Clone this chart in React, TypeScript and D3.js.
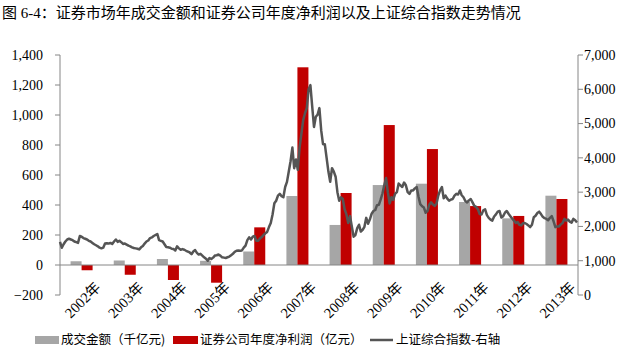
import React from "react";
import * as d3 from "d3";

const years = ["2002年","2003年","2004年","2005年","2006年","2007年","2008年","2009年","2010年","2011年","2012年","2013年"];
const turnover = [25, 30, 40, 28, 90, 460, 267, 533, 542, 420, 311, 462];
const netProfit = [-35, -65, -100, -118, 251, 1318, 480, 933, 773, 393, 327, 440];
const leftTicks = [-200, 0, 200, 400, 600, 800, 1000, 1200, 1400];
const rightTicks = [0, 1000, 2000, 3000, 4000, 5000, 6000, 7000];
// Shanghai Composite, two readings per month, Jan 2002 - Dec 2013
const sseIndex = [
  1550,1380,1480,1560,1620,1640,1620,1600,1560,1540,1520,1720,1700,1660,1640,1620,1580,1560,1520,1480,1450,1420,1380,1360,
  1380,1500,1510,1500,1520,1490,1560,1620,1550,1580,1540,1490,1500,1470,1440,1420,1390,1370,1360,1350,1330,1390,1430,1500,
  1560,1590,1660,1680,1720,1750,1780,1600,1580,1560,1480,1400,1390,1380,1350,1340,1300,1420,1360,1320,1340,1320,1290,1266,
  1240,1190,1270,1310,1230,1180,1200,1150,1100,1060,1000,1080,1050,1090,1150,1160,1180,1150,1100,1090,1080,1100,1120,1160,
  1200,1260,1290,1300,1290,1300,1380,1440,1600,1680,1620,1700,1720,1580,1580,1650,1690,1750,1800,1840,1980,2100,2350,2675,
  2750,2900,2950,2880,2850,3150,3300,3600,3900,4300,3700,3950,3650,4300,4700,5100,5300,5450,6000,6120,5500,4900,5200,5260,
  5450,4800,4400,4400,4000,3600,3300,3700,3600,3450,3000,2750,2850,2800,2500,2350,2100,2300,2000,1700,1750,1950,2050,1850,
  1900,1990,2250,2080,2200,2370,2450,2480,2620,2630,2780,2960,3200,3410,3000,2670,2850,2780,2950,3000,3250,3200,3150,3280,
  3200,3000,2950,3050,3050,3110,3150,2870,2650,2590,2550,2400,2450,2640,2700,2640,2600,2660,2900,3050,3150,2820,2900,2810,
  2750,2780,2800,2900,2950,2930,3050,2910,2850,2740,2700,2760,2800,2700,2600,2570,2500,2360,2350,2470,2500,2330,2250,2200,
  2170,2290,2350,2430,2450,2260,2300,2400,2450,2370,2300,2230,2170,2100,2130,2050,2030,2090,2100,2070,2030,1980,2050,2270,
  2310,2390,2430,2360,2280,2240,2220,2180,2250,2300,2150,1980,2000,2000,2060,2100,2220,2170,2200,2140,2110,2220,2180,2116
];
const legendLabels = ["成交金额（千亿元)", "证券公司年度净利润（亿元）", "上证综合指数-右轴"];
const title = "图 6-4：证券市场年成交金额和证券公司年度净利润以及上证综合指数走势情况";

const W = 625, H = 352;
const plotL = 60, plotR = 578, plotT = 55, plotB = 295;
const GRAY = "#A6A6A6", RED = "#C00000", LINE = "#555555", AXIS = "#868686";
const FONT = "'Liberation Serif', 'Noto Sans CJK SC', serif";
const CJK = "'Noto Sans CJK SC', sans-serif";

export default function App() {
  const yL = d3.scaleLinear().domain([-200, 1400]).range([plotB, plotT]);
  const yR = d3.scaleLinear().domain([0, 7000]).range([plotB, plotT]);
  const x0 = d3.scaleBand().domain(years).range([plotL, plotR]).padding(0);
  const x1 = d3.scaleBand().domain(["a", "b"]).range([0, x0.bandwidth()]).paddingInner(0).paddingOuter(0.96);
  const xl = d3.scaleLinear().domain([0, sseIndex.length - 1]).range([plotL, plotR - 1]);
  const line = d3.line<number>().x((_, i) => xl(i)).y((d) => yR(d));
  const fmt = d3.format(",");
  const zeroY = yL(0);

  return (
    <svg width={W} height={H} style={{ display: "block" }}>
      <style>{`body{margin:0}`}</style>
      <rect width={W} height={H} fill="#fff" />
      <text x={2} y={18} fontFamily={FONT} fontSize={15} fill="#000">{title}</text>

      {/* bars */}
      {years.map((y, i) => {
        const v1 = turnover[i], v2 = netProfit[i];
        return (
          <g key={y}>
            <rect x={x0(y)! + x1("a")!} width={x1.bandwidth()} y={Math.min(yL(v1), zeroY)} height={Math.abs(yL(v1) - zeroY)} fill={GRAY} />
            <rect x={x0(y)! + x1("b")!} width={x1.bandwidth()} y={Math.min(yL(v2), zeroY)} height={Math.abs(yL(v2) - zeroY)} fill={RED} />
          </g>
        );
      })}

      {/* axes */}
      <line x1={plotL} x2={plotL} y1={plotT} y2={plotB} stroke={AXIS} />
      {leftTicks.map((t) => (
        <g key={"l" + t}>
          <line x1={plotL - 5} x2={plotL} y1={yL(t)} y2={yL(t)} stroke={AXIS} />
          <text x={43} y={yL(t)} dy="0.35em" textAnchor="end" fontFamily={FONT} fontSize={14}>{fmt(t)}</text>
        </g>
      ))}
      <line x1={plotR} x2={plotR} y1={plotT} y2={plotB} stroke={AXIS} />
      {rightTicks.map((t) => (
        <g key={"r" + t}>
          <line x1={plotR} x2={plotR + 5} y1={yR(t)} y2={yR(t)} stroke={AXIS} />
          <text x={584} y={yR(t)} dy="0.35em" textAnchor="start" fontFamily={FONT} fontSize={14}>{fmt(t)}</text>
        </g>
      ))}
      <line x1={plotL} x2={plotR} y1={zeroY} y2={zeroY} stroke={AXIS} />
      {years.map((y) => {
        const cx = x0(y)! + x0.bandwidth() / 2 + 1;
        const cy = 300;
        return (
          <text key={"t" + y} x={cx} y={cy} dy="0.35em" textAnchor="middle" transform={`rotate(-45 ${cx} ${cy})`} fontFamily={FONT} fontSize={14.5}>{y}</text>
        );
      })}

      {/* index line */}
      <path d={line(sseIndex)!} fill="none" stroke={LINE} strokeWidth={2.5} strokeLinejoin="round" />

      {/* legend */}
      <rect x={35} y={336} width={24} height={8} fill={GRAY} />
      <text x={61} y={340} dy="0.35em" fontFamily={CJK} fontSize={12.5}>{legendLabels[0]}</text>
      <rect x={173} y={336} width={25} height={8} fill={RED} />
      <text x={200} y={340} dy="0.35em" fontFamily={CJK} fontSize={12.5}>{legendLabels[1]}</text>
      <line x1={370} x2={393} y1={340} y2={340} stroke={LINE} strokeWidth={2.5} />
      <text x={396} y={340} dy="0.35em" fontFamily={CJK} fontSize={12.5}>{legendLabels[2]}</text>
    </svg>
  );
}
